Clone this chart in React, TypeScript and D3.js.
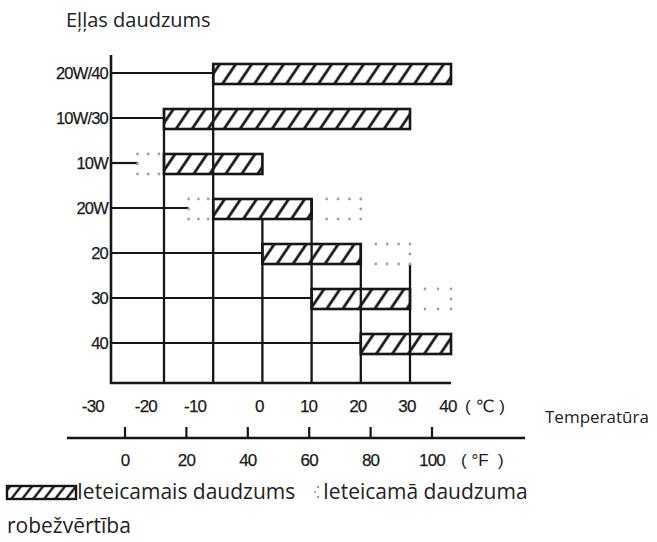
import * as d3 from 'd3';

// oil grades, top to bottom
const grades = ['20W/40', '10W/30', '10W', '20W', '20', '30', '40'];
// recommended range (°C)
const recFrom = [-10, -20, -20, -10, 0, 10, 20];
const recTo = [40, 30, 0, 10, 20, 30, 40];
// leader line from the axis to this temperature
const leaderTo = [-10, -20, -25, -15, 0, 10, 20];
// limit (dotted) zones
const limitLeft: ([number, number] | null)[] = [null, null, [-25, -20], [-15, -10], null, null, null];
const limitRight: ([number, number] | null)[] = [null, null, null, [10, 20], [20, 30], [30, 40], null];

const celsiusTicks = [-30, -20, -10, 0, 10, 20, 30, 40];
const celsiusLabels = ['-30', '-20', '-10', '0', '10', '20', '30', '40'];
const fahrenheitTicks = [0, 20, 40, 60, 80, 100];

// vertical grid lines: temperature, grade row they reach up to, and which bar edge
const gridTemps = [-20, -10, 0, 10, 20, 30];
const gridTopGrade = ['10W/30', '20W/40', '20W', '20W', '20', '20'];
const gridTopEdge = ['top', 'top', 'bottom', 'top', 'top', 'bottom'];

const W = 657;
const H = 542;
const ink = '#161616';
const dotColor = '#a0a0a0';
const sans = '"Open Sans", "Noto Sans", sans-serif';
const tickFont = '"Liberation Sans", "DejaVu Sans", sans-serif';

export default function App() {
  // the scanned scale is slightly compressed at the warm end
  const x = d3.scaleLinear().domain([-30, -20, 30, 40]).range([111, 164, 410, 451]);
  const xF = d3.scaleLinear().domain([0, 100]).range([125, 432]);
  const y = d3.scalePoint<string>().domain(grades).range([73, 343]);

  const axisTop = 55;
  const axisBottom = 383;
  const fAxisY = 438;
  const barUp = 9;
  const barH = 20;

  const barTop = (g: string) => (y(g) as number) - barUp;
  const barBottom = (g: string) => barTop(g) + barH;

  const dotsFor = (x0: number, x1: number) => {
    const n = Math.round((x1 - x0) / 11) + 1;
    return d3.range(n).map(i => x0 + (i * (x1 - x0)) / (n - 1));
  };

  return (
    <svg width={W} height={H} style={{ position: 'absolute', left: 0, top: 0, background: '#fff' }}>
      <defs>
        <pattern id="hatch" width="16" height="20" patternUnits="userSpaceOnUse" patternTransform="skewX(-34)">
          <line x1={7} y1={0} x2={7} y2={20} stroke={ink} strokeWidth={3.3} />
        </pattern>
        <pattern id="hatchSmall" width="11" height="13" patternUnits="userSpaceOnUse" patternTransform="skewX(-38)">
          <line x1={5} y1={0} x2={5} y2={13} stroke={ink} strokeWidth={3} />
        </pattern>
      </defs>

      <text x={66} y={27} fontFamily={sans} fontSize={20} fill="#222">Eļļas daudzums</text>

      {/* leader lines */}
      {grades.map((g, i) => (
        <line key={'ld' + g} x1={x(-30)} x2={x(leaderTo[i])} y1={y(g)} y2={y(g)} stroke={ink} strokeWidth={2.2} />
      ))}

      {/* vertical grid lines */}
      {gridTemps.map((t, i) => {
        const g = gridTopGrade[i];
        const top = gridTopEdge[i] === 'top' ? barTop(g) : barBottom(g);
        return <line key={'gv' + t} x1={x(t)} x2={x(t)} y1={top} y2={axisBottom} stroke={ink} strokeWidth={2.3} />;
      })}

      {/* axes */}
      <line x1={x(-30)} x2={x(-30)} y1={axisTop} y2={axisBottom + 1} stroke={ink} strokeWidth={2.6} />
      <line x1={x(-30) - 1} x2={x(40)} y1={axisBottom} y2={axisBottom} stroke={ink} strokeWidth={2.6} />

      {/* recommended bars */}
      {grades.map((g, i) => (
        <rect key={'bar' + g} x={x(recFrom[i])} y={barTop(g)} width={x(recTo[i]) - x(recFrom[i])} height={barH}
          fill="url(#hatch)" stroke={ink} strokeWidth={2.6} />
      ))}

      {/* limit zones (dotted) */}
      {grades.map((g, i) => {
        const out: JSX.Element[] = [];
        const yt = barTop(g);
        const yb = barBottom(g);
        const ym = (yt + yb) / 2;
        const L = limitLeft[i];
        if (L) {
          const xs = dotsFor(x(L[0]), x(L[1]) - 5);
          xs.forEach((px, k) => {
            out.push(<circle key={`lt${g}${k}`} cx={px} cy={yt} r={1.4} fill={dotColor} />);
            out.push(<circle key={`lb${g}${k}`} cx={px} cy={yb} r={1.4} fill={dotColor} />);
          });
          out.push(<circle key={`lm${g}`} cx={x(L[0])} cy={ym} r={1.4} fill={dotColor} />);
        }
        const R = limitRight[i];
        if (R) {
          const xs = dotsFor(x(R[0]) + 15, x(R[1]));
          xs.forEach((px, k) => {
            out.push(<circle key={`rt${g}${k}`} cx={px} cy={yt} r={1.4} fill={dotColor} />);
            out.push(<circle key={`rb${g}${k}`} cx={px} cy={yb} r={1.4} fill={dotColor} />);
          });
          out.push(<circle key={`rm${g}`} cx={x(R[1])} cy={ym} r={1.4} fill={dotColor} />);
        }
        return <g key={'lim' + g}>{out}</g>;
      })}

      {/* grade labels */}
      {grades.map(g => (
        <text key={'gl' + g} x={108} y={y(g)} dy="0.36em" textAnchor="end" fontFamily={tickFont} fontSize={16.5}
          letterSpacing={-0.8} fill="#1a1a1a" stroke="#1a1a1a" strokeWidth={0.25}>{g}</text>
      ))}

      {/* celsius labels */}
      {celsiusTicks.map((t, i) => (
        <text key={'cl' + t} x={t < 0 ? x(t) - 7 : x(t) - 3} y={406} dy="0.36em" textAnchor={t < 0 ? 'end' : 'middle'}
          fontFamily={tickFont} fontSize={17} letterSpacing={-0.8} fill="#1a1a1a" stroke="#1a1a1a" strokeWidth={0.25}>
          {celsiusLabels[i]}
        </text>
      ))}
      <text x={465} y={406} dy="0.36em" fontFamily={tickFont} fontSize={17} fill="#1a1a1a" xmlSpace="preserve">( ℃ )</text>
      <text x={545} y={423} fontFamily={sans} fontSize={17} fill="#222">Temperatūra</text>

      {/* fahrenheit scale */}
      <line x1={67} x2={525} y1={fAxisY} y2={fAxisY} stroke={ink} strokeWidth={2.4} />
      {fahrenheitTicks.map(t => (
        <g key={'ft' + t}>
          <line x1={xF(t)} x2={xF(t)} y1={fAxisY - 11} y2={fAxisY} stroke={ink} strokeWidth={2.2} />
          <text x={xF(t)} y={460} dy="0.36em" textAnchor="middle" fontFamily={tickFont} fontSize={17}
            letterSpacing={-0.8} fill="#1a1a1a" stroke="#1a1a1a" strokeWidth={0.25}>{t}</text>
        </g>
      ))}
      <text x={461} y={460} dy="0.36em" fontFamily={tickFont} fontSize={17} fill="#1a1a1a" xmlSpace="preserve">( °F  )</text>

      {/* legend */}
      <rect x={7} y={486} width={69} height={13} fill="url(#hatchSmall)" stroke={ink} strokeWidth={2.4} />
      <text x={77} y={499} fontFamily={sans} fontSize={21} fill="#222">Ieteicamais daudzums</text>
      <circle cx={318} cy={487} r={1.3} fill={dotColor} />
      <circle cx={318} cy={497} r={1.3} fill={dotColor} />
      <circle cx={315} cy={492} r={1.1} fill={dotColor} />
      <text x={323} y={499} fontFamily={sans} fontSize={21} fill="#222">Ieteicamā daudzuma</text>
      <text x={7} y={533} fontFamily={sans} fontSize={21} fill="#222">robežvērtība</text>
    </svg>
  );
}
